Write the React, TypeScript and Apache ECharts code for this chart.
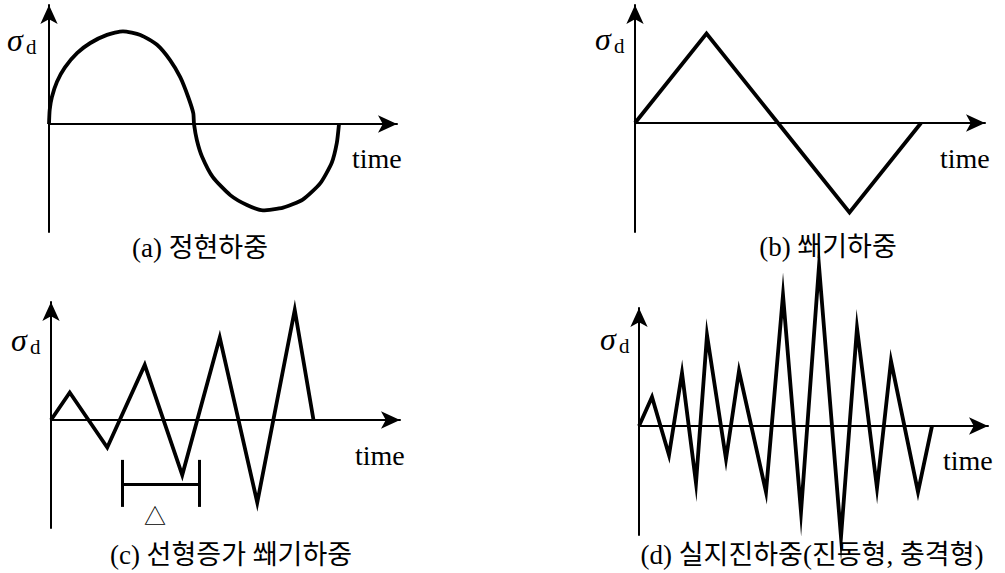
import React, { useEffect, useRef } from "react";
import * as echarts from "echarts";

// (a) 정현하중 — hand-drawn sine load (time, stress)
const sineTime = [0, 0.01, 0.04, 0.11, 0.22, 0.39, 0.57, 0.8, 1.02, 1.26, 1.49, 1.67, 1.81, 1.92, 1.99, 2.0, 2.04, 2.11, 2.26, 2.5, 2.73, 2.95, 3.23, 3.5, 3.74, 3.9, 3.97, 4.0];
const sineStress = [0, 0.16, 0.3, 0.47, 0.63, 0.79, 0.9, 0.99, 1.03, 0.99, 0.88, 0.71, 0.52, 0.3, 0.12, 0, -0.18, -0.36, -0.59, -0.79, -0.9, -0.96, -0.93, -0.84, -0.66, -0.43, -0.21, 0];

// (b) 쐐기하중 — wedge load
const wedgeTime = [0, 1, 2, 3, 4];
const wedgeStress = [0, 1, 0, -1, 0];

// (c) 선형증가 쐐기하중 — linearly increasing wedge load
const rampTime = [0, 0.5, 1.5, 2.5, 3.5, 4.5, 5.5, 6.5, 7];
const rampStress = [0, 1, -1, 2, -2, 3, -3, 4, 0];
// period bracket Δ: [start, end] in time, and its stress levels
const deltaSpan = [1.9, 3.95];
const deltaLevels = { top: -1.45, bar: -2.33, bottom: -3.16, mark: -3.4 };

// (d) 실지진하중 — earthquake record (vibration / impact)
const quakeTime = [0, 1.3, 3.0, 4.3, 5.7, 6.8, 8.7, 10.0, 12.7, 14.4, 16.2, 18.0, 20.2, 21.8, 23.8, 25.2, 27.9, 29.3];
const quakeStress = [0, 2.9, -2.9, 5.3, -5.7, 9.1, -3.3, 5.5, -6.6, 13.1, -8.6, 16.0, -11.1, 9.8, -6.2, 6.5, -6.6, 0];

const captions = ["(a) 정현하중", "(b) 쐐기하중", "(c) 선형증가 쐐기하중", "(d) 실지진하중(진동형, 충격형)"];
const xName = "time";

// Page frame of each panel: origin, arrow tips, axis bottom and pixels per unit
const frames = [
  { ox: 49, oy: 124, xTip: 397, yTip: 5, yBottom: 232, xUnit: 72.5, yUnit: 90 },
  { ox: 635, oy: 123, xTip: 985, yTip: 5, yBottom: 232, xUnit: 71.5, yUnit: 89.5 },
  { ox: 51, oy: 420, xTip: 400, yTip: 302, yBottom: 528, xUnit: 37.5, yUnit: 27.5 },
  { ox: 639, oy: 426, xTip: 988, yTip: 308, yBottom: 535, xUnit: 10, yUnit: 10 },
];
const sigmaPos = [[7, 51], [595, 50], [11, 351], [600, 350]];
const timePos = [[352, 168], [940, 168], [355, 465], [943, 470]];
const captionPos = [[200, 248], [828, 247], [231, 555], [812, 555]];

const SERIF = "'Liberation Serif', 'Noto Sans CJK KR', serif";
const TIP_OFFSET = 0;
const ARROW = [13, 19];

function pairs(xs: number[], ys: number[]) {
  return xs.map((x, i) => [x, ys[i]]);
}

export default function App() {
  const ref = useRef<HTMLDivElement>(null);

  useEffect(() => {
    if (!ref.current) return;
    const chart = echarts.init(ref.current, undefined, { renderer: "svg" });

    const grids: any[] = [];
    const xAxes: any[] = [];
    const yAxes: any[] = [];
    frames.forEach((f, i) => {
      const top = f.yTip + TIP_OFFSET;
      const right = f.xTip - TIP_OFFSET;
      const width = right - f.ox;
      const height = f.yBottom - top;
      grids.push({ left: f.ox, top, width, height, outerBoundsMode: "none", containLabel: false });
      const axisCommon = {
        axisTick: { show: false },
        axisLabel: { show: false },
        splitLine: { show: false },
        axisLine: {
          show: true,
          onZero: true,
          symbol: ["none", "arrow"],
          symbolSize: ARROW,
          lineStyle: { color: "#000", width: 2 },
        },
      };
      xAxes.push({ type: "value", gridIndex: i, min: 0, max: width / f.xUnit, ...axisCommon });
      yAxes.push({
        type: "value",
        gridIndex: i,
        min: -(f.yBottom - f.oy) / f.yUnit,
        max: (f.oy - top) / f.yUnit,
        ...axisCommon,
      });
    });

    const lineStyle = { color: "#000", width: 3.8, join: "miter", miterLimit: 20 };
    const base = { type: "line", symbol: "none", showSymbol: false, clip: false, silent: true, lineStyle };

    const series: any[] = [
      { ...base, xAxisIndex: 0, yAxisIndex: 0, smooth: 0.2, data: pairs(sineTime, sineStress) },
      { ...base, xAxisIndex: 1, yAxisIndex: 1, data: pairs(wedgeTime, wedgeStress) },
      {
        ...base,
        xAxisIndex: 2,
        yAxisIndex: 2,
        data: pairs(rampTime, rampStress),
        markLine: {
          silent: true,
          symbol: ["none", "none"],
          label: { show: false },
          lineStyle: { color: "#000", width: 3, type: "solid" },
          data: [
            [{ coord: [deltaSpan[0], deltaLevels.top] }, { coord: [deltaSpan[0], deltaLevels.bottom] }],
            [{ coord: [deltaSpan[1], deltaLevels.top] }, { coord: [deltaSpan[1], deltaLevels.bottom] }],
            [{ coord: [deltaSpan[0], deltaLevels.bar] }, { coord: [deltaSpan[1], deltaLevels.bar] }],
          ],
        },
        markPoint: {
          silent: true,
          symbol: "circle",
          symbolSize: 1,
          itemStyle: { color: "rgba(0,0,0,0)" },
          label: {
            show: true,
            position: "inside",
            formatter: "△",
            color: "#000",
            fontSize: 22,
            fontFamily: "'Noto Sans CJK KR', 'DejaVu Sans'",
          },
          data: [{ coord: [(deltaSpan[0] + deltaSpan[1]) / 2 - 0.15, deltaLevels.mark] }],
        },
      },
      { ...base, xAxisIndex: 3, yAxisIndex: 3, data: pairs(quakeTime, quakeStress) },
    ];

    const graphic: any[] = [];
    frames.forEach((_, i) => {
      const [sx, sb] = sigmaPos[i];
      graphic.push({
        type: "text",
        x: sx,
        y: sb - 0.33 * 32,
        style: { text: "σ", fill: "#000", font: `italic 32px ${SERIF}`, align: "left", verticalAlign: "middle" },
      });
      graphic.push({
        type: "text",
        x: sx + 19,
        y: sb + 3 - 0.33 * 21,
        style: { text: "d", fill: "#000", font: `21px ${SERIF}`, align: "left", verticalAlign: "middle" },
      });
      const [tx, tb] = timePos[i];
      graphic.push({
        type: "text",
        x: tx,
        y: tb - 0.33 * 28,
        style: { text: xName, fill: "#000", font: `28px ${SERIF}`, align: "left", verticalAlign: "middle" },
      });
      const [cx, cy] = captionPos[i];
      graphic.push({
        type: "text",
        x: cx,
        y: cy,
        style: { text: captions[i], fill: "#000", font: `27px ${SERIF}`, align: "center", verticalAlign: "middle" },
      });
    });

    chart.setOption({
      animation: false,
      backgroundColor: "#fff",
      grid: grids,
      xAxis: xAxes,
      yAxis: yAxes,
      series,
      graphic,
    });

    return () => chart.dispose();
  }, []);

  return <div ref={ref} style={{ position: "absolute", left: 0, top: 0, width: 1005, height: 573 }} />;
}
